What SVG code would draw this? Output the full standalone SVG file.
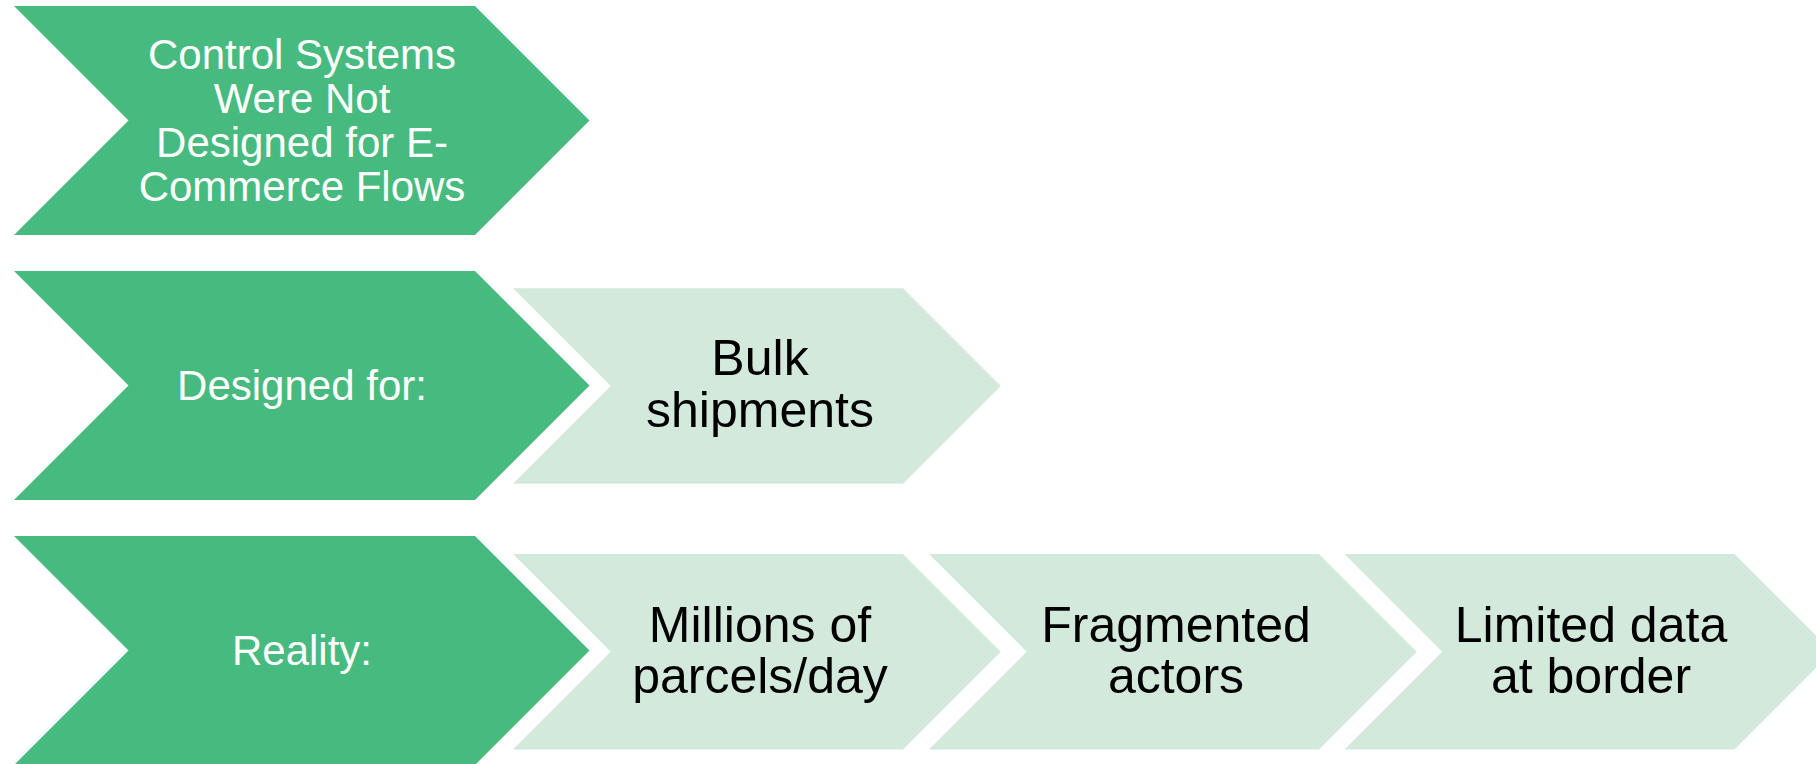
<svg xmlns="http://www.w3.org/2000/svg" width="1816" height="764" viewBox="0 0 1816 764">
  <style>
    .dark { fill: #47BB7F; }
    .light { fill: #D3E9DC; }
    .tw { font-family: "Liberation Sans", Arial, sans-serif; font-size: 42px; fill: #FFFFFF; text-anchor: middle; }
    .tb { font-family: "Liberation Sans", Arial, sans-serif; font-size: 50px; fill: #000000; text-anchor: middle; }
  </style>
  <rect width="1816" height="764" fill="#FFFFFF"/>
  <g id="connectors"></g>
  <g id="node-control">
    <polygon class="dark" points="14,6 475,6 589.5,120.5 475,235 14,235 128.5,120.5"/>
    <text class="tw" x="302" y="68.5">Control Systems</text>
    <text class="tw" x="302" y="112.5">Were Not</text>
    <text class="tw" x="302" y="156.5">Designed for E-</text>
    <text class="tw" x="302" y="200.5">Commerce Flows</text>
  </g>
  <g id="node-designed">
    <polygon class="dark" points="14,271 475,271 589.5,385.5 475,500 14,500 128.5,385.5"/>
    <text class="tw" x="302" y="400">Designed for:</text>
  </g>
  <g id="node-bulk">
    <polygon class="light" points="513,288.3 903,288.3 1000.75,386 903,483.8 513,483.8 610.75,386"/>
    <text class="tb" x="760" y="375">Bulk</text>
    <text class="tb" x="760" y="427">shipments</text>
  </g>
  <g id="node-reality">
    <polygon class="dark" points="14,536 475,536 589.5,650.5 475,765 14,765 128.5,650.5"/>
    <text class="tw" x="302" y="664.5">Reality:</text>
  </g>
  <g id="node-millions">
    <polygon class="light" points="513,554 903,554 1000.75,651.75 903,749.5 513,749.5 610.75,651.75"/>
    <text class="tb" x="760" y="641.5">Millions of</text>
    <text class="tb" x="760" y="693">parcels/day</text>
  </g>
  <g id="node-fragmented">
    <polygon class="light" points="929,554 1319,554 1416.75,651.75 1319,749.5 929,749.5 1026.75,651.75"/>
    <text class="tb" x="1176" y="641.5">Fragmented</text>
    <text class="tb" x="1176" y="693">actors</text>
  </g>
  <g id="node-limited">
    <polygon class="light" points="1344.5,554 1734.5,554 1832.25,651.75 1734.5,749.5 1344.5,749.5 1442.25,651.75"/>
    <text class="tb" x="1591" y="641.5">Limited data</text>
    <text class="tb" x="1591" y="693">at border</text>
  </g>
</svg>
